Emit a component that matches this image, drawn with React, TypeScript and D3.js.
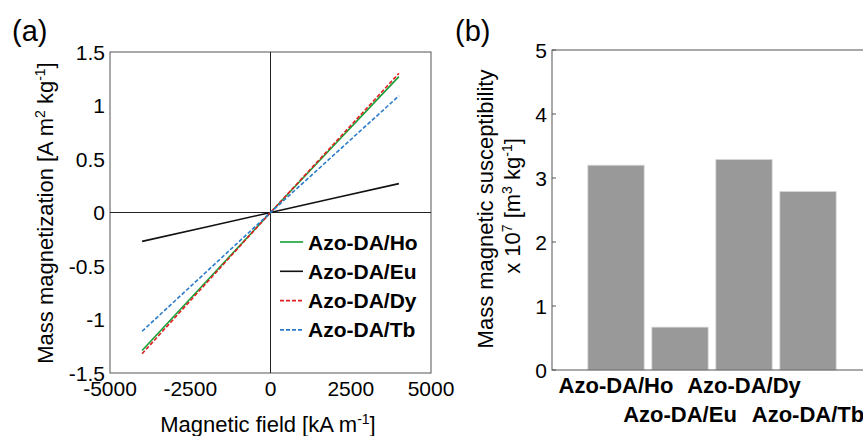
import React from 'react'
import * as d3 from 'd3'

// panel (a): magnetization curves
const fieldValues = [-4000, -2000, 0, 2000, 4000]
const seriesNames = ['Azo-DA/Ho', 'Azo-DA/Eu', 'Azo-DA/Dy', 'Azo-DA/Tb']
const hoValues = [-1.29, -0.645, 0, 0.635, 1.27]
const euValues = [-0.27, -0.135, 0, 0.135, 0.27]
const dyValues = [-1.32, -0.66, 0, 0.65, 1.3]
const tbValues = [-1.11, -0.555, 0, 0.545, 1.09]
const seriesColors = ['#17a035', '#111111', '#e02020', '#2b7bcb']
const seriesDashed = [false, false, true, true]
const xTicksA = [-5000, -2500, 0, 2500, 5000]
const yTicksA = [-1.5, -1, -0.5, 0, 0.5, 1, 1.5]

// panel (b): susceptibility bars
const barCategories = ['Azo-DA/Ho', 'Azo-DA/Eu', 'Azo-DA/Dy', 'Azo-DA/Tb']
const barValues = [3.2, 0.67, 3.29, 2.79]
const yTicksB = [0, 1, 2, 3, 4, 5]

const font = 'Liberation Sans, Arial, sans-serif'

const PanelA = () => {
  const x = d3.scaleLinear().domain([-5000, 5000]).range([110, 431])
  const y = d3.scaleLinear().domain([-1.5, 1.5]).range([373, 52])
  const allSeries = [hoValues, euValues, dyValues, tbValues]
  const line = d3.line<number>()
    .x((_, i) => x(fieldValues[i]))
    .y((d) => y(d))

  return (
    <g fontFamily={font}>
      <text x={12} y={41} fontSize={29}>(a)</text>
      <rect x={x(-5000)} y={y(1.5)} width={x(5000) - x(-5000)} height={y(-1.5) - y(1.5)}
        fill="none" stroke="#555" strokeWidth={1} />
      <line x1={x(0)} x2={x(0)} y1={y(1.5)} y2={y(-1.5)} stroke="#222" strokeWidth={1} />
      <line x1={x(-5000)} x2={x(5000)} y1={y(0)} y2={y(0)} stroke="#222" strokeWidth={1} />
      {yTicksA.map((t) => (
        <text key={t} x={105} y={y(t)} fontSize={21} textAnchor="end" dominantBaseline="central">
          {String(t)}
        </text>
      ))}
      {xTicksA.map((t) => (
        <text key={t} x={x(t)} y={396} fontSize={21} textAnchor="middle">{String(t)}</text>
      ))}
      {allSeries.map((vals, i) => (
        <path key={seriesNames[i]} d={line(vals) || ''} fill="none" stroke={seriesColors[i]}
          strokeWidth={1.6} strokeDasharray={seriesDashed[i] ? '4 2' : undefined} />
      ))}
      {seriesNames.map((name, i) => {
        const ly = 242 + i * 29.3
        return (
          <g key={name}>
            <line x1={280} x2={303} y1={ly} y2={ly} stroke={seriesColors[i]} strokeWidth={1.6}
              strokeDasharray={seriesDashed[i] ? '4 2' : undefined} />
            <text x={308} y={ly} fontSize={21} fontWeight="bold" dominantBaseline="central">{name}</text>
          </g>
        )
      })}
      <text x={268} y={432} fontSize={22} textAnchor="middle">
        Magnetic field [kA m<tspan dy={-8} fontSize={14}>-1</tspan><tspan dy={8}>]</tspan>
      </text>
      <text transform="translate(53,213) rotate(-90)" fontSize={22} textAnchor="middle">
        Mass magnetization [A m<tspan dy={-8} fontSize={14}>2</tspan>
        <tspan dy={8}> kg</tspan><tspan dy={-8} fontSize={14}>-1</tspan><tspan dy={8}>]</tspan>
      </text>
    </g>
  )
}

const PanelB = () => {
  const x = d3.scaleLinear().domain([0, 5]).range([552, 872])
  const y = d3.scaleLinear().domain([0, 5]).range([370, 50])
  const bw = (x(1) - x(0)) * 0.88

  return (
    <g fontFamily={font}>
      <text x={455} y={41} fontSize={29}>(b)</text>
      {barValues.map((v, i) => (
        <rect key={barCategories[i]} x={x(i + 1) - bw / 2} y={y(v)} width={bw} height={y(0) - y(v)}
          fill="#999999" stroke="#d8d8d8" strokeWidth={0.8} />
      ))}
      <rect x={x(0)} y={y(5)} width={x(5) - x(0)} height={y(0) - y(5)}
        fill="none" stroke="#555" strokeWidth={1} />
      {yTicksB.map((t) => (
        <g key={t}>
          <line x1={x(0)} x2={x(0) + 4} y1={y(t)} y2={y(t)} stroke="#555" />
          <text x={547} y={y(t)} fontSize={21} textAnchor="end" dominantBaseline="central">{t}</text>
        </g>
      ))}
      {barCategories.map((c, i) => (
        <text key={c} x={x(i + 1)} y={i % 2 === 0 ? 393 : 422} fontSize={22} fontWeight="bold"
          textAnchor="middle">{c}</text>
      ))}
      <text transform="translate(493,209) rotate(-90)" fontSize={22} textAnchor="middle">
        Mass magnetic susceptibility
      </text>
      <text transform="translate(520,206) rotate(-90)" fontSize={22} textAnchor="middle">
        x 10<tspan dy={-8} fontSize={14}>7</tspan><tspan dy={8}> [m</tspan>
        <tspan dy={-8} fontSize={14}>3</tspan><tspan dy={8}> kg</tspan>
        <tspan dy={-8} fontSize={14}>-1</tspan><tspan dy={8}>]</tspan>
      </text>
    </g>
  )
}

const App = () => (
  <svg width={863} height={436} style={{ position: 'absolute', left: 0, top: 0, background: '#fff' }}>
    <PanelA />
    <PanelB />
  </svg>
)

export default App
